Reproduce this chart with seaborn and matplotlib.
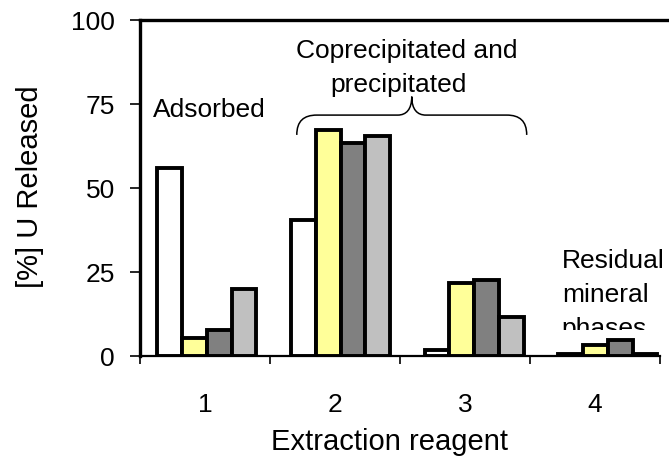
import numpy as np
import pandas as pd
import matplotlib
matplotlib.use("Agg")
import matplotlib.pyplot as plt
import seaborn as sns
from matplotlib.path import Path
from matplotlib.patches import PathPatch
from matplotlib.transforms import Bbox, TransformedBbox

# ---------------- data ----------------
categories = ["1", "2", "3", "4"]
series = ["S1", "S2", "S3", "S4"]
values_s1 = [56.0, 40.6, 1.9, 0.6]
values_s2 = [5.5, 67.4, 21.6, 3.4]
values_s3 = [7.6, 63.5, 22.5, 4.9]
values_s4 = [19.8, 65.6, 11.5, 0.7]
colors = ["#FFFFFF", "#FFFF99", "#808080", "#C0C0C0"]
y_ticks = [0, 25, 50, 75, 100]

rows = []
for s, vals in zip(series, [values_s1, values_s2, values_s3, values_s4]):
    for c, v in zip(categories, vals):
        rows.append({"reagent": c, "series": s, "value": v})
df = pd.DataFrame(rows)

# ---------------- style ----------------
sns.set_theme(style="white")
plt.rcParams["font.family"] = ["Liberation Sans", "DejaVu Sans"]
plt.rcParams["text.color"] = "black"
plt.rcParams["axes.labelcolor"] = "black"
FS = 19
FS_LABEL = 21

fig = plt.figure(figsize=(6.69, 4.57), dpi=100)
W, H = 669, 457
ax = fig.add_axes([140 / W, 1 - 356 / H, (672 - 140) / W, (356 - 20) / H])

sns.barplot(data=df, x="reagent", y="value", hue="series", order=categories,
            hue_order=series, palette=colors, saturation=1, width=0.74,
            edgecolor="black", linewidth=2.8, errorbar=None, legend=False, ax=ax)

ax.set_xlim(-0.5, 3.48)
ax.set_ylim(0, 100)

# tick layout (the reference's category ticks are spaced slightly tighter than the bars)
step = 130 / 133.7
bounds = [-0.5 + k * step for k in range(5)]
centers = [-0.5 + (k + 0.5) * step for k in range(4)]
ax.set_xticks(centers)
ax.set_xticklabels(categories)
ax.set_xticks(bounds, minor=True)
ax.tick_params(axis="x", which="major", length=0, pad=27, labelsize=FS,
               labelcolor="black", bottom=True)
ax.tick_params(axis="x", which="minor", length=6, width=1.2, direction="out",
               color="black", bottom=True)
ax.set_yticks(y_ticks)
ax.set_yticklabels([str(v) for v in y_ticks])
ax.tick_params(axis="y", length=7.2, width=1.2, pad=11, labelsize=FS,
               direction="out", color="black", labelcolor="black", left=True)

for side in ["left", "top", "bottom"]:
    ax.spines[side].set_visible(True)
    ax.spines[side].set_color("black")
ax.spines["left"].set_linewidth(2.4)
ax.spines["top"].set_linewidth(2.4)
ax.spines["bottom"].set_linewidth(1.6)
ax.spines["bottom"].set_bounds(-0.5, bounds[-1])
ax.spines["right"].set_visible(False)

ax.set_xlabel("Extraction reagent", fontsize=FS_LABEL, color="black")
ax.xaxis.label.set_verticalalignment("baseline")
ax.xaxis.set_label_coords(389 / W, 1 - 450.5 / H, transform=fig.transFigure)
ax.set_ylabel("[%] U Released", fontsize=FS_LABEL, color="black")
ax.yaxis.set_label_coords(44 / W, 1 - 187 / H, transform=fig.transFigure)

# ---------------- annotations ----------------
ax.text(-0.404, 71.1, "Adsorbed", fontsize=FS, ha="left", va="baseline", color="black")
ax.text(1.496, 88.7, "Coprecipitated and", fontsize=FS, ha="center", va="baseline", color="black")
ax.text(1.436, 78.6, "precipitated", fontsize=FS, ha="center", va="baseline", color="black")

clip = TransformedBbox(Bbox([[2.5, 7.7], [3.6, 100]]), ax.transData)
for txt, yb in [("Residual", 26.2), ("mineral", 16.1), ("phases", 6.0)]:
    t = ax.text(2.655, yb, txt, fontsize=FS, ha="left", va="baseline", color="black")
    t.set_clip_box(clip)
    t.set_clip_on(True)

# curly brace
xl, xr, xm = 0.673, 2.393, 1.533
ye, yb, yt = 65.8, 71.7, 77.2
r_end, r_mid = 0.15, 0.105
verts = [
    (xl, ye),
    (xl, ye + 0.7 * (yb - ye)), (xl + 0.35 * r_end, yb), (xl + r_end, yb),
    (xm - r_mid, yb),
    (xm - 0.4 * r_mid, yb), (xm, yb + 0.3 * (yt - yb)), (xm, yt),
    (xm, yb + 0.3 * (yt - yb)), (xm + 0.4 * r_mid, yb), (xm + r_mid, yb),
    (xr - r_end, yb),
    (xr - 0.35 * r_end, yb), (xr, ye + 0.7 * (yb - ye)), (xr, ye),
]
codes = [Path.MOVETO,
         Path.CURVE4, Path.CURVE4, Path.CURVE4,
         Path.LINETO,
         Path.CURVE4, Path.CURVE4, Path.CURVE4,
         Path.CURVE4, Path.CURVE4, Path.CURVE4,
         Path.LINETO,
         Path.CURVE4, Path.CURVE4, Path.CURVE4]
ax.add_patch(PathPatch(Path(verts, codes), facecolor="none", edgecolor="black",
                       linewidth=1.1))

fig.savefig("out.png", dpi=100)
